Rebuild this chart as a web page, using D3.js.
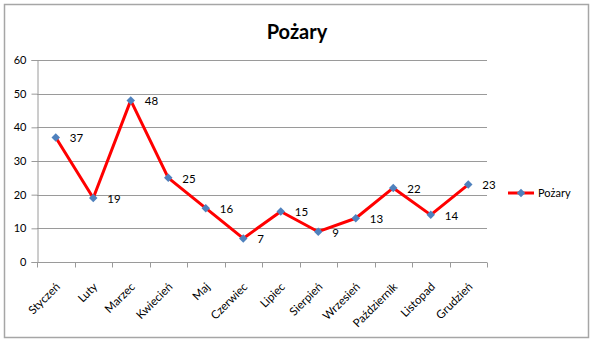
<!DOCTYPE html>
<html>
<head>
<meta charset="utf-8">
<script src="https://cdn.jsdelivr.net/npm/d3@7/dist/d3.min.js"></script>
<style>
  html, body { margin: 0; padding: 0; background: #fff; }
  svg { display: block; font-family: Lato, "Open Sans", "Liberation Sans", sans-serif; }
</style>
</head>
<body>
<svg id="chart" width="594" height="344"></svg>
<script>
// Monthly number of fires
const months = ["Styczeń", "Luty", "Marzec", "Kwiecień", "Maj", "Czerwiec",
                "Lipiec", "Sierpień", "Wrzesień", "Październik", "Listopad", "Grudzień"];
const fires = [37, 19, 48, 25, 16, 7, 15, 9, 13, 22, 14, 23];
const yTicks = [0, 10, 20, 30, 40, 50, 60];
const seriesName = "Pożary";
const titleText = "Pożary";

const svg = d3.select("#chart");
const gridColor = "#9a9a9a";

// Outer frame
svg.append("rect")
  .attr("x", 4.5).attr("y", 4.5)
  .attr("width", 584).attr("height", 333)
  .attr("fill", "#fff")
  .attr("stroke", "#a6a6a6").attr("stroke-width", 1.5);

const plot = { left: 37, right: 487, top: 60, bottom: 262 };

const x = d3.scaleBand().domain(months).range([plot.left, plot.right]);
const y = d3.scaleLinear().domain([0, 60]).range([plot.bottom, plot.top]);

// Title
svg.append("text")
  .attr("x", 297).attr("y", 39)
  .attr("text-anchor", "middle")
  .attr("font-size", 20).attr("font-weight", "bold")
  .attr("fill", "#000")
  .text(titleText);

// Horizontal gridlines
svg.append("g")
  .selectAll("line")
  .data(yTicks.filter(d => d > 0))
  .join("line")
  .attr("x1", plot.left).attr("x2", plot.right)
  .attr("y1", d => Math.round(y(d)) + 0.5).attr("y2", d => Math.round(y(d)) + 0.5)
  .attr("stroke", gridColor).attr("stroke-width", 1);

// Y axis
const yAxis = svg.append("g")
  .attr("transform", `translate(${plot.left + 0.5},0)`)
  .call(d3.axisLeft(y).tickValues(yTicks).tickSize(6).tickPadding(5));
yAxis.selectAll("path, line").attr("stroke", gridColor);
yAxis.selectAll("text").attr("font-size", 11).attr("fill", "#000")
  .attr("font-family", "Lato, 'Open Sans', sans-serif");

// X axis with ticks at category boundaries
const xAxisG = svg.append("g")
  .attr("transform", `translate(0,${Math.round(y(0)) + 0.5})`);
xAxisG.append("line")
  .attr("x1", plot.left).attr("x2", plot.right)
  .attr("stroke", gridColor);
const bounds = months.map(m => x(m)).concat([x.range()[1]]);
xAxisG.selectAll("line.tick")
  .data(bounds)
  .join("line")
  .attr("class", "tick")
  .attr("x1", d => Math.round(d) + 0.5).attr("x2", d => Math.round(d) + 0.5)
  .attr("y1", 0).attr("y2", 5)
  .attr("stroke", gridColor);
xAxisG.selectAll("text")
  .data(months)
  .join("text")
  .attr("transform", d => `translate(${x(d) + x.bandwidth() / 2 + 5},25) rotate(-45)`)
  .attr("text-anchor", "end")
  .attr("font-size", 11.5)
  .attr("fill", "#000")
  .text(d => d);

// Data line
const cx = (d, i) => x(months[i]) + x.bandwidth() / 2;
const line = d3.line().x(cx).y(d => y(d));
svg.append("path")
  .datum(fires)
  .attr("d", line)
  .attr("fill", "none")
  .attr("stroke", "#ff0000")
  .attr("stroke-width", 3)
  .attr("stroke-linejoin", "round");

// Diamond markers
const diamond = d3.symbol().type(d3.symbolDiamond2).size(46);
svg.append("g")
  .selectAll("path")
  .data(fires)
  .join("path")
  .attr("transform", (d, i) => `translate(${cx(d, i)},${y(d)})`)
  .attr("d", diamond)
  .attr("fill", "#4f81bd");

// Value labels
svg.append("g")
  .selectAll("text")
  .data(fires)
  .join("text")
  .attr("x", (d, i) => cx(d, i) + 14)
  .attr("y", d => y(d) + 2)
  .attr("dominant-baseline", "middle")
  .attr("font-size", 11.5)
  .attr("fill", "#000")
  .text(d => d);

// Legend
const lg = svg.append("g").attr("transform", "translate(508,193)");
lg.append("line")
  .attr("x1", 0).attr("x2", 26)
  .attr("stroke", "#ff0000").attr("stroke-width", 3);
lg.append("path")
  .attr("transform", "translate(13,0)")
  .attr("d", diamond)
  .attr("fill", "#4f81bd");
lg.append("text")
  .attr("x", 30).attr("y", 1)
  .attr("dominant-baseline", "middle")
  .attr("font-size", 11)
  .attr("fill", "#000")
  .text(seriesName);
</script>
</body>
</html>
